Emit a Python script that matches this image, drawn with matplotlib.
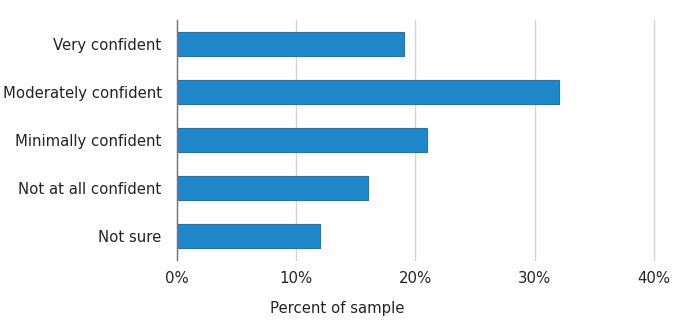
import numpy as np
import matplotlib.pyplot as plt

categories = ['Very confident', 'Moderately confident', 'Minimally confident',
              'Not at all confident', 'Not sure']
percent = [19, 32, 21, 16, 12]
xticks = [0, 10, 20, 30, 40]
xtick_labels = ['0%', '10%', '20%', '30%', '40%']

fig = plt.figure(figsize=(6.75, 3.33), dpi=100)
ax = fig.add_axes([0.2622, 0.2192, 0.7067, 0.7207])

pos = np.arange(len(categories))
ax.barh(pos, percent, height=0.48, color='#1f88c9', edgecolor='#1a76b6',
        linewidth=0.8, zorder=3)

ax.set_ylim(len(categories) - 0.5, -0.5)
ax.set_xlim(0, 40)
ax.set_yticks(pos)
ax.set_yticklabels(categories, fontsize=10.7, color='#222222')
ax.set_xticks(xticks)
ax.set_xticklabels(xtick_labels, fontsize=10.7, color='#222222')
ax.tick_params(axis='both', length=0)
ax.tick_params(axis='y', pad=11)
ax.tick_params(axis='x', pad=8)

ax.xaxis.grid(True, color='#d4d4d4', linewidth=1.0, zorder=0)
for gl in ax.get_xgridlines():
    gl.set_clip_on(False)
for s in ['top', 'right', 'bottom']:
    ax.spines[s].set_visible(False)
ax.spines['left'].set_color('#777777')
ax.spines['left'].set_linewidth(1.0)
ax.spines['left'].set_zorder(4)

# axis title sits centred on the whole figure, not on the plot area
fig.text(0.5, 0.075, 'Percent of sample', fontsize=10.7, color='#222222',
         ha='center', va='center')

fig.savefig('out.png', dpi=100)
